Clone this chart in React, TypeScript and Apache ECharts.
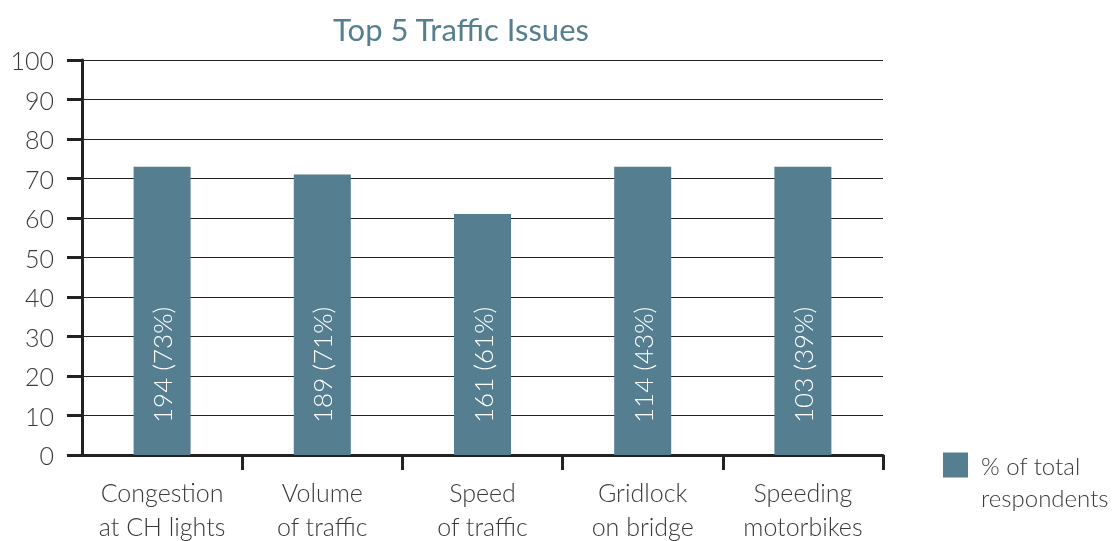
import React, { useEffect, useRef } from "react";
import * as echarts from "echarts";

const categories = ["Congestion\nat CH lights", "Volume\nof traffic", "Speed\nof traffic", "Gridlock\non bridge", "Speeding\nmotorbikes"];
const barValues = [73, 71, 61, 73, 73];
const counts = [194, 189, 161, 114, 103];
const percents = [73, 71, 61, 43, 39];
const seriesName = "% of total\nrespondents";
const titleText = "Top 5 Traffic Issues";

const FONT = "Lato, 'Open Sans', sans-serif";
const BAR = "#557e90";
const INK = "#222222";
const TXT = "#3a3a3a";

export default function App() {
  const ref = useRef<HTMLDivElement>(null);
  useEffect(() => {
    const chart = echarts.init(ref.current!, null, { renderer: "svg" });
    chart.setOption({
      animation: false,
      textStyle: { fontFamily: FONT },
      title: {
        text: titleText,
        left: 456,
        top: 8,
        textAlign: "center",
        textStyle: { color: "#557f91", fontSize: 31, fontWeight: "normal", fontFamily: FONT },
      },
      legend: {
        left: 943,
        top: 417,
        padding: 0,
        orient: "vertical",
        itemWidth: 25,
        itemHeight: 25,
        itemGap: 10,
        icon: "rect",
        formatter: (name: string) => "\n" + name,
        textStyle: { color: TXT, fontSize: 24, fontWeight: 300, fontFamily: FONT, lineHeight: 32, padding: [0, 0, 0, 8] },
        data: [seriesName],
      },
      grid: { left: 82, right: 236, top: 60, bottom: 86, containLabel: false, outerBoundsMode: "none" },
      xAxis: {
        type: "category",
        data: categories,
        axisLine: { lineStyle: { color: INK, width: 3 } },
        axisTick: {
          show: true,
          length: 15,
          lineStyle: { color: INK, width: 3 },
          interval: (i: number) => i !== 0,
        },
        axisLabel: { color: TXT, fontSize: 25, fontWeight: 300, lineHeight: 34, margin: 20, fontFamily: FONT, interval: 0 },
      },
      yAxis: {
        type: "value",
        min: 0,
        max: 100,
        interval: 10,
        axisLine: { show: true, lineStyle: { color: INK, width: 3 } },
        axisTick: { show: true, inside: false, length: 15, lineStyle: { color: INK, width: 3 } },
        axisLabel: { color: TXT, fontSize: 25, fontWeight: 300, margin: 28, fontFamily: FONT },
        splitLine: { show: true, lineStyle: { color: INK, width: 1.2 } },
      },
      series: [
        {
          name: seriesName,
          type: "bar",
          data: barValues,
          barWidth: 57,
          itemStyle: { color: BAR },
          label: {
            show: true,
            position: "insideBottom",
            rotate: 90,
            align: "left",
            verticalAlign: "middle",
            distance: 32,
            color: "#ffffff",
            fontSize: 26,
            fontWeight: 300,
            fontFamily: FONT,
            formatter: (p: any) => `${counts[p.dataIndex]} (${percents[p.dataIndex]}%)`,
          },
        },
      ],
    });
    return () => chart.dispose();
  }, []);
  return <div ref={ref} style={{ position: "fixed", left: 0, top: 0, width: 1119, height: 541 }} />;
}
